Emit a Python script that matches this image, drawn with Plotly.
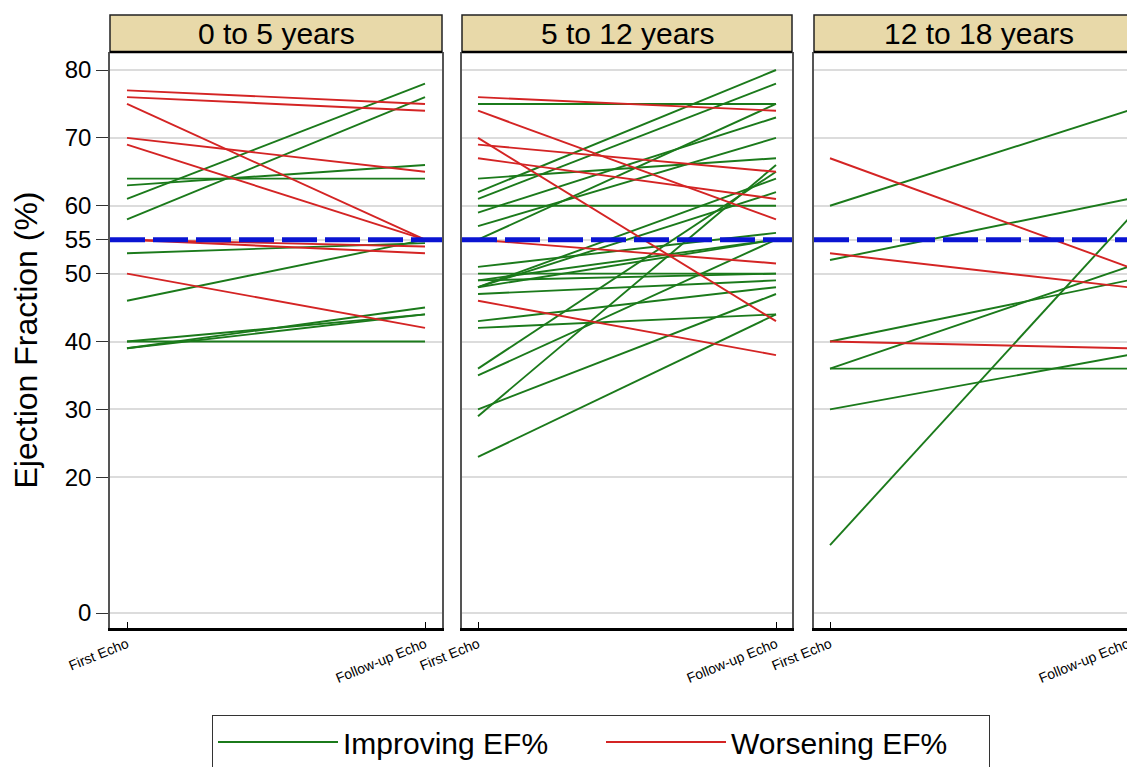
import plotly.graph_objects as go

# ---------------- data ----------------
panel_titles = ["0 to 5 years", "5 to 12 years", "12 to 18 years"]
x_ticktext = ["First Echo", "Follow-up Echo"]
y_tickvals = [0, 20, 30, 40, 50, 55, 60, 70, 80]
reference_ef = 55

# 0 to 5 years
p1_improve_first = [61, 58, 64, 63, 53, 46, 40, 40, 39, 39]
p1_improve_follow = [78, 76, 64, 66, 54.5, 55, 40, 44, 44, 45]
p1_worsen_first = [77, 76, 75, 70, 69, 55, 55, 50]
p1_worsen_follow = [75, 74, 55, 65, 55, 54, 53, 42]

# 5 to 12 years
p2_improve_first = [75, 64, 62, 61, 60, 59, 57, 55, 51, 50, 49, 49, 48, 48, 48, 47, 43, 42, 36, 35, 30, 29, 23]
p2_improve_follow = [75, 67, 80, 78, 60, 73, 70, 75, 56, 50, 55, 50, 55, 62, 64, 49, 48, 44, 65, 55, 47, 66, 44]
p2_worsen_first = [76, 74, 70, 69, 67, 55, 46]
p2_worsen_follow = [74, 58, 43, 65, 61, 51.5, 38]

# 12 to 18 years
p3_improve_first = [60, 52, 10, 40, 36, 36, 30]
p3_improve_follow = [74, 61, 58, 49, 51, 36, 38]
p3_worsen_first = [67, 53, 40]
p3_worsen_follow = [51, 48, 39]

improve_first = [p1_improve_first, p2_improve_first, p3_improve_first]
improve_follow = [p1_improve_follow, p2_improve_follow, p3_improve_follow]
worsen_first = [p1_worsen_first, p2_worsen_first, p3_worsen_first]
worsen_follow = [p1_worsen_follow, p2_worsen_follow, p3_worsen_follow]

# ---------------- style ----------------
OFF = 8  # page body margin
W, H = 1135 - OFF, 767 - OFF
GREEN = "#1b7a1b"
RED = "#d42424"
BLUE = "#0a14d2"
STRIP = "#e8d9a9"
FONT = "Liberation Sans, Arial, sans-serif"


def fx(px):
    return (px - OFF) / W


def fy(py):
    return 1 - (py - OFF) / H


# panel geometry in page pixels: (left, first tick, last tick, right)
panels_px = [(110, 127, 425, 442), (462, 478, 776, 792), (814, 830, 1128, 1135)]
plot_top, plot_bottom = 52, 628
strip_top = 15
px_per_unit = (613 - 70) / 80.0

fig = go.Figure()

shown = {"imp": False, "wor": False}
for i in range(3):
    xa = "x" if i == 0 else f"x{i+1}"
    ya = "y" if i == 0 else f"y{i+1}"
    for a, b in zip(improve_first[i], improve_follow[i]):
        fig.add_trace(go.Scatter(
            x=[0, 1], y=[a, b], mode="lines", xaxis=xa, yaxis=ya,
            line=dict(color=GREEN, width=1.9),
            name="Improving EF%", legendgroup="imp",
            showlegend=not shown["imp"], hoverinfo="y"))
        shown["imp"] = True
    for a, b in zip(worsen_first[i], worsen_follow[i]):
        fig.add_trace(go.Scatter(
            x=[0, 1], y=[a, b], mode="lines", xaxis=xa, yaxis=ya,
            line=dict(color=RED, width=1.9),
            name="Worsening EF%", legendgroup="wor",
            showlegend=not shown["wor"], hoverinfo="y"))
        shown["wor"] = True

ydom = [fy(plot_bottom), fy(plot_top)]
layout = dict(
    width=W, height=H,
    margin=dict(l=0, r=0, t=0, b=0, autoexpand=False),
    paper_bgcolor="white", plot_bgcolor="white",
    font=dict(family=FONT, color="black"),
    showlegend=True,
    legend=dict(
        orientation="h", x=fx(212), xanchor="left",
        y=fy(715), yanchor="top",
        bordercolor="#333333", borderwidth=1,
        font=dict(size=30, family=FONT),
        entrywidth=253, itemwidth=120,
        traceorder="normal",
    ),
)

shapes = []
annotations = []
for i, (l, t0, t1, r) in enumerate(panels_px):
    suffix = "" if i == 0 else str(i + 1)
    pxu = t1 - t0
    layout["xaxis" + suffix] = dict(
        domain=[fx(l), min(1.0, fx(r))], range=[(l - t0) / pxu, (min(r, OFF + W) - t0) / pxu],
        anchor="y" + suffix,
        tickvals=[0, 1], ticktext=x_ticktext, tickangle=-22,
        tickfont=dict(size=14, family=FONT),
        ticks="inside", ticklen=6, tickcolor="black",
        showline=True, linecolor="black", linewidth=2.5,
        showgrid=False, zeroline=False, fixedrange=True, automargin=False,
    )
    layout["yaxis" + suffix] = dict(
        domain=ydom,
        range=[-(plot_bottom - 613) / px_per_unit, 80 + (70 - plot_top) / px_per_unit],
        anchor="x" + suffix,
        tickvals=y_tickvals,
        showticklabels=(i == 0),
        tickfont=dict(size=24, family=FONT),
        ticks="outside" if i == 0 else "", ticklen=12, tickcolor="#333333",
        showline=True, mirror=True, linecolor="#555555", linewidth=1.5,
        showgrid=True, gridcolor="#dcdcdc", gridwidth=1.5,
        zeroline=False, fixedrange=True, automargin=False,
        title=dict(text="Ejection Fraction (%)", font=dict(size=32, family=FONT), standoff=19) if i == 0 else None,
    )
    # reference line at 55%
    shapes.append(dict(
        type="line", xref=f"x{suffix} domain", x0=0, x1=1,
        yref="y" + suffix, y0=reference_ef, y1=reference_ef,
        line=dict(color=BLUE, width=5, dash="35px,8px"), layer="above"))
    # strip header
    shapes.append(dict(
        type="rect", xref="paper", yref="paper",
        x0=fx(l), x1=fx(r) if i < 2 else 1.01, y0=fy(plot_top), y1=fy(strip_top),
        fillcolor=STRIP, line=dict(color="#222222", width=1.5), layer="above"))
    shapes.append(dict(
        type="line", xref="paper", yref="paper",
        x0=fx(l), x1=min(1.0, fx(r)), y0=fy(plot_top), y1=fy(plot_top),
        line=dict(color="black", width=2.5), layer="above"))
    annotations.append(dict(
        text=panel_titles[i], xref="paper", yref="paper",
        x=fx((l + (r if i < 2 else 1144)) / 2), y=fy((strip_top + plot_top) / 2),
        xanchor="center", yanchor="middle", showarrow=False,
        font=dict(size=30, family=FONT, color="black")))

layout["shapes"] = shapes
layout["annotations"] = annotations
fig.update_layout(**layout)

fig.write_html("out.html")
